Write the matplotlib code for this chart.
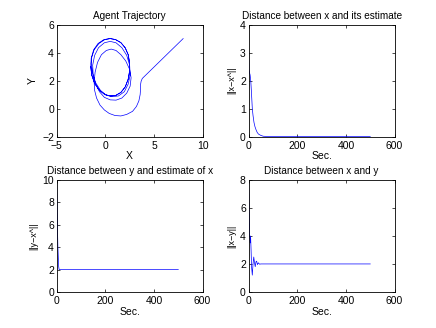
import matplotlib
matplotlib.use("Agg")
import matplotlib.pyplot as plt

# ------------------------------------
# Data
# ------------------------------------

# agent trajectory (x, y)
traj_x = [8.0, 3.8, 3.68, 3.63, 3.62, 3.58, 3.45, 3.2, 2.8, 2.2, 1.6, 1.0,
          0.4, -0.1, -0.55, -0.9, -1.1, -1.15, -1.05, -0.8, -0.4, 0.1, 0.6,
          1.1, 1.6, 2.1, 2.5, 2.65, 2.55, 2.2, 1.7, 1.1, 0.5, -0.1, -0.6,
          -1.0, -1.25, -1.3, -1.1, -0.7, -0.1, 0.5, 1.1, 1.7, 2.2, 2.5, 2.55,
          2.35, 1.95, 1.35, 0.7, 0.1, -0.5, -1.0, -1.3, -1.45, -1.42, -1.15,
          -0.65, -0.05, 0.5, 1.05, 1.6, 2.05, 2.35, 2.5, 2.5, 2.35, 2.05, 1.6,
          1.05, 0.5, -0.05, -0.6, -1.1, -1.4, -1.5, -1.45, -1.2, -0.75, -0.15,
          0.5, 1.05, 1.6, 2.05, 2.35, 2.48, 2.5, 2.35, 2.05, 1.6, 1.05, 0.5,
          -0.05, -0.6, -1.1, -1.4, -1.5]
traj_y = [5.0, 2.15, 1.95, 1.75, 1.4, 1.0, 0.55, 0.15, -0.2, -0.42, -0.53,
          -0.5, -0.35, -0.1, 0.25, 0.75, 1.3, 1.9, 2.6, 3.3, 3.85, 4.15, 4.25,
          4.15, 3.85, 3.4, 2.8, 2.2, 1.6, 1.1, 0.75, 0.6, 0.62, 0.8, 1.2,
          1.75, 2.4, 3.1, 3.8, 4.35, 4.7, 4.8, 4.7, 4.35, 3.8, 3.1, 2.4,
          1.75, 1.2, 0.9, 0.85, 0.95, 1.3, 1.85, 2.5, 3.2, 3.6, 4.2, 4.65,
          4.93, 5.0, 4.93, 4.7, 4.35, 3.85, 3.3, 2.7, 2.1, 1.55, 1.15, 0.93,
          0.9, 1.0, 1.3, 1.8, 2.4, 3.0, 3.6, 4.2, 4.65, 4.93, 5.0, 4.93, 4.72,
          4.32, 3.85, 3.3, 2.7, 2.1, 1.55, 1.15, 0.93, 0.9, 1.0, 1.3, 1.8,
          2.4, 3.0]

# ||x - x^||
t_est = [0, 1, 3, 6, 9, 12, 15, 18, 22, 26, 30, 35, 40, 50, 60, 80, 500]
d_est = [3.1, 2.4, 2.3, 2.2, 1.95, 1.5, 1.0, 0.75, 0.5, 0.35, 0.25, 0.15,
         0.09, 0.04, 0.01, 0.0, 0.0]

# ||y - x^||
t_yest = [0, 2, 5, 8, 10, 500]
d_yest = [9.7, 7.0, 4.0, 2.3, 2.0, 2.0]

# ||x - y||
t_xy = [0, 2, 4, 6, 8, 10, 12, 15, 18, 21, 24, 27, 30, 33, 36, 40, 45,
        50, 500]
d_xy = [8.0, 5.5, 4.0, 3.5, 4.0, 3.0, 1.8, 1.2, 2.0, 2.5, 2.1, 1.8, 2.15,
        2.2, 1.95, 2.08, 1.98, 2.0, 2.0]

# ------------------------------------
# Figure
# ------------------------------------

plt.rcParams["font.family"] = ["Liberation Sans", "DejaVu Sans"]
plt.rcParams["font.size"] = 7

fig = plt.figure(figsize=(4.36, 3.28), dpi=100)

pos = [
    [0.13, 0.5838, 0.3347, 0.3412],
    [0.5703, 0.5838, 0.3347, 0.3412],
    [0.13, 0.11, 0.3347, 0.3412],
    [0.5703, 0.11, 0.3347, 0.3412],
]
axs = [fig.add_axes(p) for p in pos]


def style(ax):
    ax.tick_params(direction="in", top=True, right=True, length=2.5,
                   width=0.5, labelsize=7.5)
    ax.tick_params(axis="x", pad=3)
    ax.tick_params(axis="y", pad=2)
    for s in ax.spines.values():
        s.set_linewidth(0.6)


ax = axs[0]
ax.plot(traj_x, traj_y, color="b", linewidth=0.5)
ax.set_xlim(-5, 10)
ax.set_ylim(-2, 6)
ax.set_xticks([-5, 0, 5, 10])
ax.set_yticks([-2, 0, 2, 4, 6])
ax.set_title("Agent Trajectory", fontsize=7.2, pad=4)
ax.set_xlabel("X", labelpad=0.5, fontsize=7.5)
ax.set_ylabel("Y", labelpad=3, fontsize=7.5)
style(ax)

ax = axs[1]
ax.plot(t_est, d_est, color="b", linewidth=0.5)
ax.set_xlim(0, 600)
ax.set_ylim(0, 4)
ax.set_xticks([0, 200, 400, 600])
ax.set_yticks([0, 1, 2, 3, 4])
ax.set_title("Distance between x and its estimate", fontsize=7.2, pad=4)
ax.set_xlabel("Sec.", labelpad=0.5, fontsize=7.5)
ax.set_ylabel("||x\u2212x^||", labelpad=3, fontsize=6.5)
style(ax)

ax = axs[2]
ax.plot(t_yest, d_yest, color="b", linewidth=0.5)
ax.set_xlim(0, 600)
ax.set_ylim(0, 10)
ax.set_xticks([0, 200, 400, 600])
ax.set_yticks([0, 2, 4, 6, 8, 10])
ax.set_title("Distance between y and estimate of x", fontsize=7.2, pad=4)
ax.set_xlabel("Sec.", labelpad=0.5, fontsize=7.5)
ax.set_ylabel("||y\u2212x^||", labelpad=3, fontsize=6.5)
style(ax)

ax = axs[3]
ax.plot(t_xy, d_xy, color="b", linewidth=0.5)
ax.set_xlim(0, 600)
ax.set_ylim(0, 8)
ax.set_xticks([0, 200, 400, 600])
ax.set_yticks([0, 2, 4, 6, 8])
ax.set_title("Distance between x and y", fontsize=7.2, pad=4)
ax.set_xlabel("Sec.", labelpad=0.5, fontsize=7.5)
ax.set_ylabel("||x\u2212y||", labelpad=3, fontsize=6.5)
style(ax)

fig.savefig("out.png", dpi=100)
